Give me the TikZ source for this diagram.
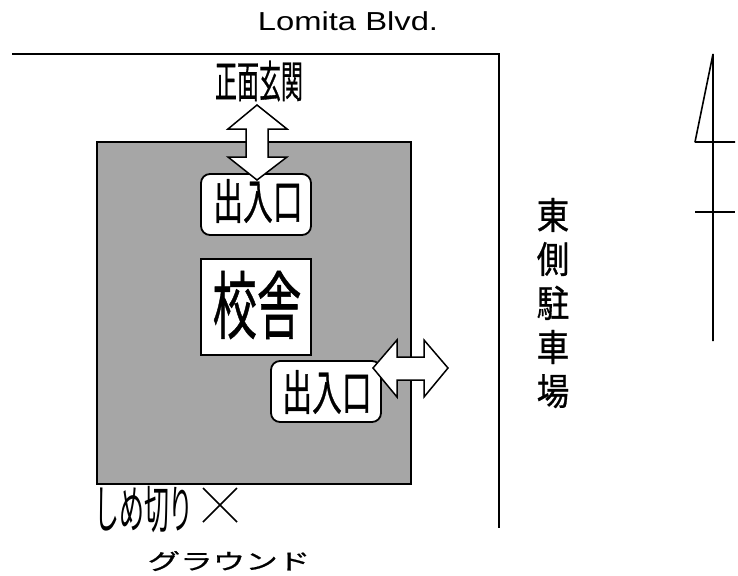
\documentclass[tikz,border=0pt]{standalone}
\usepackage{fontspec}
\setmainfont{Liberation Sans}
\newfontfamily\jpfont{Noto Sans CJK JP}
\newfontfamily\jpmid[FakeBold=0.8]{Noto Sans CJK JP}
\begin{document}
\begin{tikzpicture}[x=1pt,y=-1pt]
\tikzstyle{road} = [line width=2pt, draw=black]
\tikzstyle{thinline} = [line width=1.6pt, draw=black, line join=bevel]
\tikzstyle{building} = [rectangle, line width=2pt, fill=black!35, draw=black]
\tikzstyle{door} = [rectangle, rounded corners=9pt, fill=white, draw=black, line width=1.8pt, minimum width=110pt, minimum height=61pt, inner sep=0pt]
\tikzstyle{hall} = [rectangle, fill=white, draw=black, line width=1.5pt, minimum width=110pt, minimum height=96pt, inner sep=0pt]
\tikzstyle{wayarrow} = [fill=white, draw=black, line width=1.5pt, line join=miter]
\tikzstyle{doortext} = [inner sep=0pt, font=\jpmid\fontsize{48}{48}\selectfont, xscale=0.62]

\useasboundingbox (0,0) rectangle (738,575);

\draw[building] (97,142) rectangle (411,484);
\draw[road] (12,54) -- (499,54) -- (499,528);

\node(street) [inner sep=0pt, font=\fontsize{26}{26}\selectfont, xscale=1.26] at (348,21) {Lomita Blvd.};
\node(frontLabel) [inner sep=0pt, font=\jpmid\fontsize{44}{44}\selectfont, xscale=0.5] at (259,81) {正面玄関};

\node(frontDoor) [door] at (256,204.5) {};
\node(frontDoorText) [doortext] at (258,201) {出入口};
\node(school) [hall] at (256,307) {};
\node(schoolText) [inner sep=0pt, font=\jpmid\fontsize{74}{74}\selectfont, xscale=0.6] at (257,305) {校舎};
\node(sideDoor) [door] at (326,391.5) {};
\node(sideDoorText) [doortext] at (327,392) {出入口};

\draw[wayarrow] (257,105) -- (228,129) -- (246,129) -- (246,157) -- (228,157) -- (257,180) -- (287,157) -- (268,157) -- (268,129) -- (287,129) -- cycle;
\draw[wayarrow] (373,368) -- (397,340) -- (397,357) -- (424,357) -- (424,340) -- (448,368) -- (424,397) -- (424,380) -- (397,380) -- (397,397) -- cycle;

\node(parking) [inner sep=0pt, align=center, font=\jpmid\fontsize{37}{44}\selectfont, xscale=0.88] at (553,303) {東\\側\\駐\\車\\場};

\node(closedLabel) [inner sep=0pt, font=\jpfont\fontsize{52}{52}\selectfont, xscale=0.48] at (144,510) {しめ切り};
\draw[thinline] (203,488) -- (237,522);
\draw[thinline] (203,522) -- (237,488);
\node(ground) [inner sep=0pt, font=\jpmid\fontsize{22}{22}\selectfont, xscale=1.48] at (229,561) {グラウンド};

% north mark
\draw[thinline] (713,341) -- (713,54) -- (695,142) -- (735,142);
\draw[thinline] (695,212) -- (735,212);
\end{tikzpicture}
\end{document}
